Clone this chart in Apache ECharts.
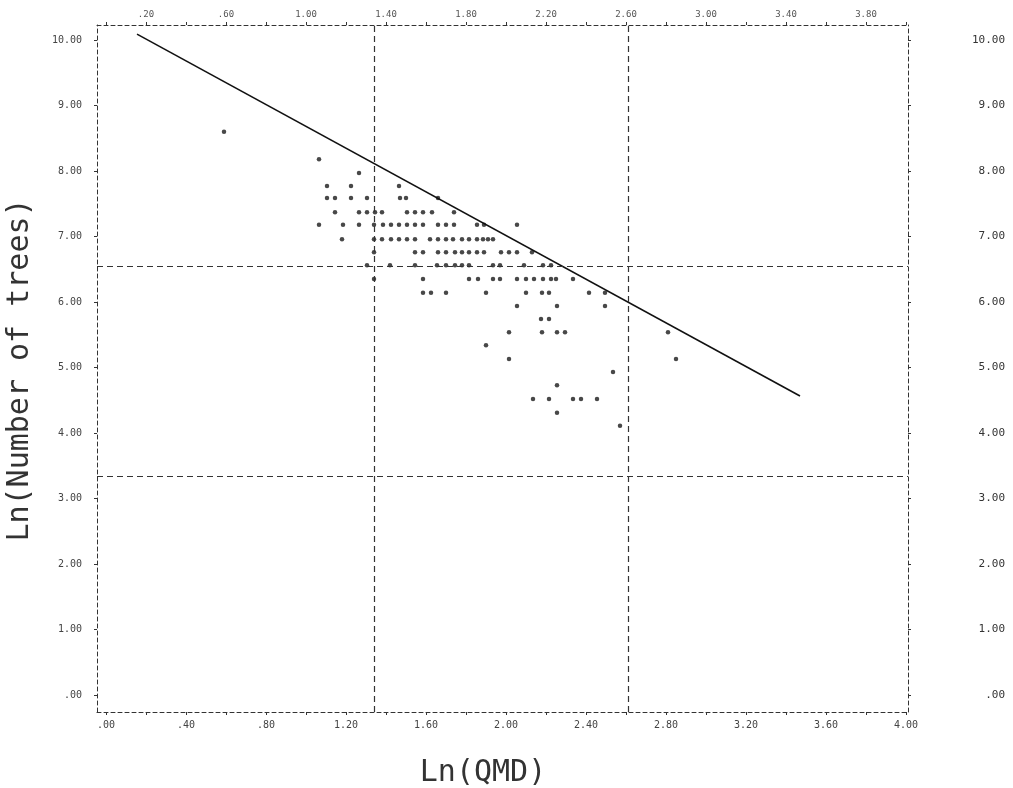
<!DOCTYPE html>
<html>
<head>
<meta charset="utf-8">
<script src="https://cdn.jsdelivr.net/npm/echarts@6/dist/echarts.min.js"></script>
<style>html,body{margin:0;padding:0;background:#fff;}#chart{width:1013px;height:788px;}</style>
</head>
<body>
<div id="chart"></div>
<script>
// ---- data ----
const lnQMD = [
  0.59,
  1.065,
  1.265,
  1.105, 1.225, 1.465,
  1.105, 1.145, 1.225, 1.305, 1.47, 1.50, 1.66,
  1.145, 1.265, 1.305, 1.345, 1.38, 1.505, 1.545, 1.585, 1.63, 1.74,
  1.065, 1.185, 1.265, 1.34, 1.385, 1.425, 1.465, 1.505, 1.545, 1.585, 1.66, 1.70, 1.74, 1.855, 1.89, 2.055,
  1.18, 1.34, 1.38, 1.425, 1.465, 1.505, 1.545, 1.62, 1.66, 1.70, 1.735, 1.78, 1.815, 1.855, 1.885, 1.91, 1.935,
  1.34, 1.545, 1.585, 1.66, 1.70, 1.745, 1.78, 1.815, 1.855, 1.89, 1.975, 2.015, 2.055, 2.13,
  1.305, 1.42, 1.545, 1.655, 1.70, 1.745, 1.78, 1.815, 1.935, 1.97, 2.09, 2.185, 2.225,
  1.34, 1.585, 1.815, 1.86, 1.935, 1.97, 2.055, 2.10, 2.14, 2.185, 2.225, 2.25, 2.335,
  1.585, 1.625, 1.70, 1.90, 2.10, 2.18, 2.215, 2.415, 2.495,
  2.055, 2.255, 2.495,
  2.175, 2.215,
  2.015, 2.18, 2.255, 2.295, 2.81,
  1.90,
  2.015, 2.85,
  2.535,
  2.255,
  2.135, 2.215, 2.335, 2.375, 2.455,
  2.255,
  2.57
];
const lnTrees = [
  8.60,
  8.18,
  7.97,
  7.77, 7.77, 7.77,
  7.59, 7.59, 7.59, 7.59, 7.59, 7.59, 7.59,
  7.37, 7.37, 7.37, 7.37, 7.37, 7.37, 7.37, 7.37, 7.37, 7.37,
  7.18, 7.18, 7.18, 7.18, 7.18, 7.18, 7.18, 7.18, 7.18, 7.18, 7.18, 7.18, 7.18, 7.18, 7.18, 7.18,
  6.96, 6.96, 6.96, 6.96, 6.96, 6.96, 6.96, 6.96, 6.96, 6.96, 6.96, 6.96, 6.96, 6.96, 6.96, 6.96, 6.96,
  6.76, 6.76, 6.76, 6.76, 6.76, 6.76, 6.76, 6.76, 6.76, 6.76, 6.76, 6.76, 6.76, 6.76,
  6.56, 6.56, 6.56, 6.56, 6.56, 6.56, 6.56, 6.56, 6.56, 6.56, 6.56, 6.56, 6.56,
  6.35, 6.35, 6.35, 6.35, 6.35, 6.35, 6.35, 6.35, 6.35, 6.35, 6.35, 6.35, 6.35,
  6.14, 6.14, 6.14, 6.14, 6.14, 6.14, 6.14, 6.14, 6.14,
  5.94, 5.94, 5.94,
  5.74, 5.74,
  5.54, 5.54, 5.54, 5.54, 5.54,
  5.34,
  5.13, 5.13,
  4.93,
  4.73,
  4.52, 4.52, 4.52, 4.52, 4.52,
  4.31,
  4.11
];
// fitted line end points
const lineQMD = [0.155, 3.47];
const lineTrees = [10.09, 4.565];
// dashed reference lines
const refQMD = [1.34, 2.61];
const refTrees = [6.55, 3.34];
// tick labels
const xBottomTicks = [0, 0.4, 0.8, 1.2, 1.6, 2.0, 2.4, 2.8, 3.2, 3.6, 4.0];
const xTopTicks = [0.2, 0.6, 1.0, 1.4, 1.8, 2.2, 2.6, 3.0, 3.4, 3.8];
const xMinorTicks = [0,0.2,0.4,0.6,0.8,1.0,1.2,1.4,1.6,1.8,2.0,2.2,2.4,2.6,2.8,3.0,3.2,3.4,3.6,3.8,4.0];
const yTicks = [0, 1, 2, 3, 4, 5, 6, 7, 8, 9, 10];

function fmt(v) {
  let s = Number(v).toFixed(2);
  if (s.startsWith('0.')) s = s.slice(1);
  return s;
}

const points = lnQMD.map((x, i) => [x, lnTrees[i]]);
const linePts = lineQMD.map((x, i) => [x, lineTrees[i]]);

const mono = 'DejaVu Sans Mono';
const frameLine = { show: true, onZero: false, lineStyle: { color: '#333', width: 1, type: [4, 3] } };
const tickStyle = { lineStyle: { color: '#333', width: 1 } };

const chart = echarts.init(document.getElementById('chart'), null, { renderer: 'canvas' });
chart.setOption({
  animation: false,
  backgroundColor: '#fff',
  grid: { left: 97, right: 105, top: 25, bottom: 76, containLabel: false },
  xAxis: [
    {
      type: 'value', position: 'bottom', min: -0.045, max: 4.01,
      axisLine: frameLine,
      axisTick: { show: true, length: 3, customValues: xMinorTicks, ...tickStyle },
      axisLabel: { customValues: xBottomTicks, formatter: fmt, margin: 8, fontFamily: mono, fontSize: 10, color: '#444' },
      splitLine: { show: false }
    },
    {
      type: 'value', position: 'top', min: -0.045, max: 4.01,
      axisLine: frameLine,
      axisTick: { show: true, length: 3, customValues: xMinorTicks, ...tickStyle },
      axisLabel: { customValues: xTopTicks, formatter: fmt, margin: 6, fontFamily: mono, fontSize: 9, color: '#555' },
      splitLine: { show: false }
    }
  ],
  yAxis: [
    {
      type: 'value', position: 'left', min: -0.26, max: 10.23,
      axisLine: frameLine,
      axisTick: { show: true, length: 3, customValues: yTicks, ...tickStyle },
      axisLabel: { customValues: yTicks, formatter: fmt, margin: 15, fontFamily: mono, fontSize: 10, color: '#444' },
      splitLine: { show: false }
    },
    {
      type: 'value', position: 'right', min: -0.26, max: 10.23,
      axisLine: frameLine,
      axisTick: { show: true, length: 3, customValues: yTicks, ...tickStyle },
      axisLabel: { customValues: yTicks, formatter: fmt, margin: 97, align: 'right', fontFamily: mono, fontSize: 11, color: '#333' },
      splitLine: { show: false }
    }
  ],
  graphic: [
    { type: 'text', x: 20, y: 370, rotation: Math.PI / 2,
      style: { text: 'Ln(Number of trees)', font: '30px "DejaVu Sans Mono"', fill: '#333', align: 'center', verticalAlign: 'middle' } },
    { type: 'text', x: 483, y: 773,
      style: { text: 'Ln(QMD)', font: '30px "DejaVu Sans Mono"', fill: '#333', align: 'center', verticalAlign: 'middle' } }
  ],
  series: [
    {
      type: 'scatter', xAxisIndex: 0, yAxisIndex: 0,
      data: points, symbol: 'circle', symbolSize: 4.5,
      itemStyle: { color: '#1a1a1a' },
      silent: true,
      markLine: {
        silent: true, symbol: ['none', 'none'], label: { show: false },
        lineStyle: { color: '#333', width: 1.2, type: [6, 4] },
        data: refQMD.map(v => ({ xAxis: v })).concat(refTrees.map(v => ({ yAxis: v })))
      }
    },
    {
      type: 'line', xAxisIndex: 0, yAxisIndex: 0,
      data: linePts, showSymbol: false, symbol: 'none',
      lineStyle: { color: '#111', width: 1.6 }
    }
  ]
});
</script>
</body>
</html>
